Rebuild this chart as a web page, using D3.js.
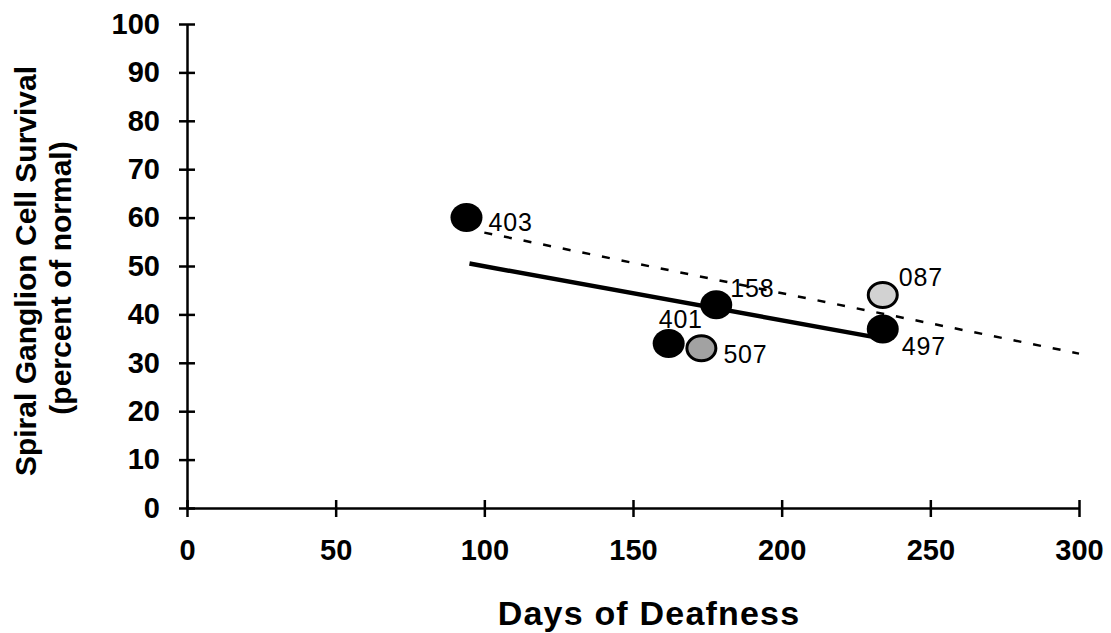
<!DOCTYPE html>
<html>
<head>
<meta charset="utf-8">
<script src="https://cdn.jsdelivr.net/npm/d3@7"></script>
<style>
  html, body { margin: 0; padding: 0; background: #fff; }
  svg { display: block; font-family: "Liberation Sans", Arial, sans-serif; }
</style>
</head>
<body>
<div id="chart"></div>
<script>
// data
const animalIds = ['403', '158', '401', '507', '087', '497'];
const daysDeaf = [94, 178, 162, 173, 234, 234];
const survivalPct = [60, 42, 34, 33, 44, 37];
const shade = ['black', 'black', 'black', 'dark', 'light', 'black'];

const solidFitX = [95, 234];
const solidFitY = [50.5, 35];
const dashFitX = [100, 300];
const dashFitY = [56.9, 31.9];

const xTicks = [0, 50, 100, 150, 200, 250, 300];
const yTicks = [0, 10, 20, 30, 40, 50, 60, 70, 80, 90, 100];

// label placement relative to each marker (px)
const labelOffset = {
  '403': [22, 13], '158': [14, -8], '401': [-10, -15],
  '507': [22, 15], '087': [16, -9], '497': [19, 26]
};
const fills = { black: '#000', dark: '#a2a2a2', light: '#d2d2d2' };

const W = 1111, H = 633;
const svg = d3.select('#chart').append('svg').attr('width', W).attr('height', H);

const x = d3.scaleLinear().domain([0, 300]).range([187, 1079]);
const y = d3.scaleLinear().domain([0, 100]).range([508, 24]);

// y axis
const yAxis = svg.append('g')
  .attr('transform', `translate(${x(0)},0)`)
  .call(d3.axisLeft(y).tickValues(yTicks).tickSize(8).tickSizeOuter(0).tickPadding(19));
yAxis.select('.domain').attr('stroke', '#000').attr('stroke-width', 2.5);
yAxis.selectAll('.tick line').attr('x1', 8).attr('x2', -8).attr('stroke-width', 2.5);
yAxis.selectAll('.tick text')
  .attr('font-size', 29).attr('font-weight', 'bold').attr('font-family', 'Liberation Sans, Arial, sans-serif');

// x axis
const xAxis = svg.append('g')
  .attr('transform', `translate(0,${y(0)})`)
  .call(d3.axisBottom(x).tickValues(xTicks).tickSize(9).tickSizeOuter(0));
xAxis.select('.domain').attr('stroke', '#000').attr('stroke-width', 2.5);
xAxis.selectAll('.tick line').attr('y1', -8).attr('y2', 9).attr('stroke-width', 2.5);
xAxis.selectAll('.tick text')
  .attr('y', 52).attr('dy', 0)
  .attr('font-size', 29).attr('font-weight', 'bold').attr('font-family', 'Liberation Sans, Arial, sans-serif');

// axis titles
svg.append('text')
  .attr('x', 649).attr('y', 625)
  .attr('text-anchor', 'middle')
  .attr('font-size', 34).attr('font-weight', 'bold')
  .attr('letter-spacing', 1.2)
  .text('Days of Deafness');

svg.append('text')
  .attr('transform', 'translate(36,271) rotate(-90)')
  .attr('text-anchor', 'middle')
  .attr('font-size', 30).attr('font-weight', 'bold')
  .text('Spiral Ganglion Cell Survival');
svg.append('text')
  .attr('transform', 'translate(71,278) rotate(-90)')
  .attr('text-anchor', 'middle')
  .attr('font-size', 30).attr('font-weight', 'bold')
  .text('(percent of normal)');

// fit lines
const line = d3.line().x(d => x(d[0])).y(d => y(d[1]));
svg.append('path')
  .attr('d', line(d3.zip(dashFitX, dashFitY)))
  .attr('fill', 'none').attr('stroke', '#000')
  .attr('stroke-width', 2.5).attr('stroke-dasharray', '8,12');
svg.append('path')
  .attr('d', line(d3.zip(solidFitX, solidFitY)))
  .attr('fill', 'none').attr('stroke', '#000')
  .attr('stroke-width', 4.5);

// points
const pts = animalIds.map((id, i) => ({ id, x: daysDeaf[i], y: survivalPct[i], shade: shade[i] }));

svg.selectAll('ellipse.pt')
  .data(pts)
  .join('ellipse')
  .attr('class', 'pt')
  .attr('cx', d => x(d.x))
  .attr('cy', d => y(d.y))
  .attr('rx', d => d.shade === 'black' ? 16 : 14.5)
  .attr('ry', d => d.shade === 'black' ? 14.5 : 12.5)
  .attr('fill', d => fills[d.shade])
  .attr('stroke', '#000')
  .attr('stroke-width', d => d.shade === 'black' ? 0 : 3);

svg.selectAll('text.lbl')
  .data(pts)
  .join('text')
  .attr('class', 'lbl')
  .attr('x', d => x(d.x) + labelOffset[d.id][0])
  .attr('y', d => y(d.y) + labelOffset[d.id][1])
  .attr('font-size', 25)
  .attr('letter-spacing', 0.8)
  .text(d => d.id);
</script>
</body>
</html>
